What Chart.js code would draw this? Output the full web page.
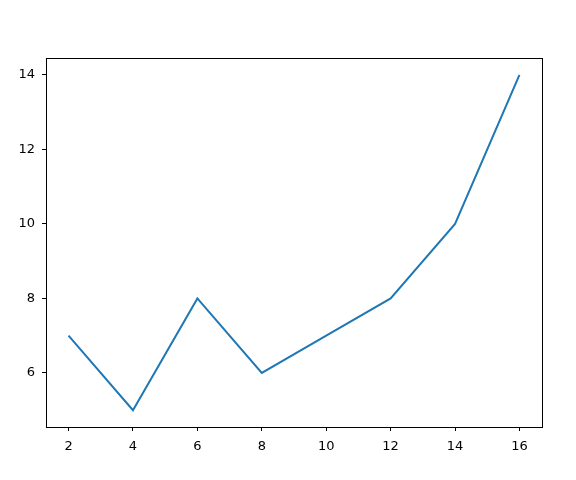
<!DOCTYPE html>
<html>
<head>
<meta charset="utf-8">
<script src="https://cdn.jsdelivr.net/npm/chart.js@4"></script>
<style>
    html, body { margin: 0; padding: 0; background: #fff; }
    #wrap { width: 576px; height: 480px; }
</style>
</head>
<body>
<div id="wrap"><canvas id="lineChart" width="576" height="480"></canvas></div>
<script>
const xValues = [2, 4, 6, 8, 10, 12, 14, 16];
const yValues = [7, 5, 8, 6, 7, 8, 10, 14];
const xTicks = [2, 4, 6, 8, 10, 12, 14, 16];
const yTicks = [6, 8, 10, 12, 14];

// draws the box around the plot like matplotlib does
const framePlugin = {
    id: 'frame',
    afterDraw(chart) {
        const { ctx, chartArea } = chart;
        ctx.save();
        ctx.strokeStyle = '#000';
        ctx.lineWidth = 1;
        ctx.strokeRect(Math.round(chartArea.left) + 0.5, Math.round(chartArea.top) + 0.5,
            Math.round(chartArea.right - chartArea.left), Math.round(chartArea.bottom - chartArea.top));
        ctx.restore();
    }
};

const ctx = document.getElementById('lineChart').getContext('2d');

new Chart(ctx, {
    type: 'line',
    data: {
        datasets: [{
            data: xValues.map((x, i) => ({ x: x, y: yValues[i] })),
            borderColor: '#1f77b4',
            borderWidth: 2,
            pointRadius: 0,
            fill: false,
            tension: 0
        }]
    },
    options: {
        responsive: false,
        animation: false,
        layout: { padding: { left: 0, top: 58, right: 34, bottom: 0 } },
        plugins: {
            legend: { display: false },
            tooltip: { enabled: false }
        },
        scales: {
            x: {
                type: 'linear',
                min: 1.3,
                max: 16.7,
                afterBuildTicks: scale => { scale.ticks = xTicks.map(v => ({ value: v })); },
                afterFit: scale => { scale.height = 53; },
                grid: { drawOnChartArea: false, drawTicks: true, tickLength: 4, color: '#000' },
                border: { display: false },
                ticks: {
                    color: '#000',
                    padding: 8,
                    maxRotation: 0,
                    font: { family: "'DejaVu Sans'", size: 13 }
                }
            },
            y: {
                type: 'linear',
                min: 4.55,
                max: 14.45,
                afterBuildTicks: scale => { scale.ticks = yTicks.map(v => ({ value: v })); },
                afterFit: scale => { scale.width = 46; },
                grid: { drawOnChartArea: false, drawTicks: true, tickLength: 4, color: '#000' },
                border: { display: false },
                ticks: {
                    color: '#000',
                    padding: 7,
                    font: { family: "'DejaVu Sans'", size: 13 }
                }
            }
        }
    },
    plugins: [framePlugin]
});
</script>
</body>
</html>
